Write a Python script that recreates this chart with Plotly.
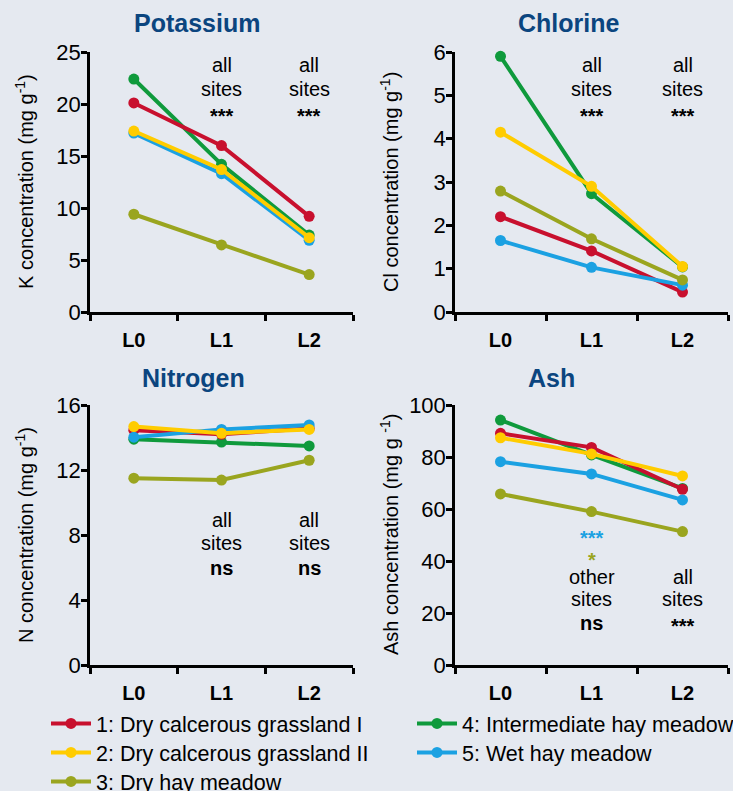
import plotly.graph_objects as go

W, H = 733, 791

periods = ["L0", "L1", "L2"]
site_names = ["1: Dry calcerous grassland I", "2: Dry calcerous grassland II",
              "3: Dry hay meadow", "4: Intermediate hay meadow", "5: Wet hay meadow"]
site_colors = ["#C8102E", "#FFCC00", "#9AA51F", "#0F9A3C", "#1BA1E2"]

# values per site (rows: sites 1..5, columns: L0, L1, L2)
potassium = [[20.1, 16.0, 9.2],
             [17.4, 13.7, 7.15],
             [9.4, 6.45, 3.6],
             [22.4, 14.2, 7.4],
             [17.2, 13.3, 6.9]]
chlorine = [[2.2, 1.41, 0.46],
            [4.15, 2.9, 1.05],
            [2.79, 1.69, 0.74],
            [5.9, 2.73, 1.04],
            [1.65, 1.03, 0.62]]
nitrogen = [[14.45, 14.2, 14.56],
            [14.67, 14.26, 14.5],
            [11.5, 11.38, 12.6],
            [13.9, 13.72, 13.48],
            [14.02, 14.5, 14.77]]
ash = [[89.1, 83.7, 67.6],
       [87.4, 81.2, 72.7],
       [65.8, 59.0, 51.3],
       [94.2, 80.8, 67.9],
       [78.2, 73.5, 63.5]]

panel_titles = ["Potassium", "Chlorine", "Nitrogen", "Ash"]
axis_titles = ["K concentration (mg g<sup>-1</sup>)", "Cl concentration (mg g<sup>-1</sup>)",
               "N concentration (mg g<sup>-1</sup>)", "Ash concentration (mg g <sup>-1</sup>)"]
y_max = [25, 6, 16, 100]
y_dtick = [5, 1, 4, 20]
panels_data = [potassium, chlorine, nitrogen, ash]

# drawing order (bottom -> top): site 4, 1, 5, 3, 2
draw_order = [3, 0, 4, 2, 1]
# one single-entry legend per site, laid out as two columns
legend_ids = ["legend", "legend2", "legend3", "legend4", "legend5"]
legend_pos = [(46, 703), (46, 732), (46, 761), (412, 703), (412, 732)]

FONT = "Liberation Sans, Arial, sans-serif"
BG = "#E5E9F0"
TITLE_COLOR = "#0B457F"

# panel pixel boxes: (left, right, top, bottom)
boxes = [(90, 353, 52, 312), (455, 728, 52, 312), (90, 353, 405, 665), (455, 728, 405, 665)]


def px(x):
    return x / W


def py(y):
    return 1 - y / H


fig = go.Figure()

for p in range(4):
    sfx = "" if p == 0 else str(p + 1)
    for s in draw_order:
        fig.add_trace(go.Scatter(
            x=periods, y=panels_data[p][s],
            xaxis="x" + sfx, yaxis="y" + sfx,
            mode="lines+markers",
            line=dict(color=site_colors[s], width=4),
            marker=dict(color=site_colors[s], size=11),
            name=site_names[s],
            legend=legend_ids[s],
            showlegend=(p == 0),
            cliponaxis=False,
            hoverinfo="skip",
        ))

layout = dict(
    width=W, height=H,
    margin=dict(l=0, r=0, t=0, b=0, autoexpand=False),
    paper_bgcolor=BG, plot_bgcolor=BG,
    font=dict(family=FONT, color="#111111", size=20),
    showlegend=True,
)

for p in range(4):
    sfx = "" if p == 0 else str(p + 1)
    l, r, t, b = boxes[p]
    layout["xaxis" + sfx] = dict(
        domain=[px(l), px(r)], anchor="y" + sfx,
        type="category", categoryorder="array", categoryarray=periods,
        range=[-0.5, 2.5],
        showline=True, linecolor="black", linewidth=2.5,
        ticks="outside", tickson="boundaries", ticklen=6, tickwidth=2.5, tickcolor="black",
        ticklabelstandoff=8,
        tickfont=dict(family=FONT, size=20, color="black", weight="bold"),
        showgrid=False, zeroline=False, fixedrange=True,
    )
    layout["yaxis" + sfx] = dict(
        domain=[py(b), py(t)], anchor="x" + sfx,
        range=[0, y_max[p]], dtick=y_dtick[p], tick0=0,
        showline=True, linecolor="black", linewidth=2.5,
        ticks="outside", ticklen=6, tickwidth=2.5, tickcolor="black",
        ticklabelstandoff=-4,
        tickfont=dict(family=FONT, size=22, color="black"),
        showgrid=False, zeroline=False, fixedrange=True,
    )

for i, lid in enumerate(legend_ids):
    layout[lid] = dict(
        x=px(legend_pos[i][0]), y=py(legend_pos[i][1]), xanchor="left", yanchor="top",
        orientation="v", bgcolor="rgba(0,0,0,0)",
        font=dict(family=FONT, size=21.5, color="black"),
        itemwidth=40,
    )

fig.update_layout(**layout)

# panel titles
title_pos = [(197, 23), (568, 23), (193, 378), (551, 378)]
for p in range(4):
    fig.add_annotation(text="<b>%s</b>" % panel_titles[p], x=px(title_pos[p][0]), y=py(title_pos[p][1]),
                       xref="paper", yref="paper", showarrow=False,
                       xanchor="center", yanchor="middle",
                       font=dict(family=FONT, size=25, color=TITLE_COLOR))

# y axis titles
for p in range(4):
    l, r, t, b = boxes[p]
    fig.add_annotation(text=axis_titles[p], textangle=-90,
                       x=px(l - 66), y=py((t + b) / 2), xref="paper", yref="paper",
                       xanchor="center", yanchor="middle",
                       showarrow=False, font=dict(family=FONT, size=20, color="black"))

# significance annotations: (panel, category, pixel y, text, color)
stat_notes = [
    (0, "L1", 65, "all", "black"), (0, "L1", 89, "sites", "black"), (0, "L1", 116, "<b>***</b>", "black"),
    (0, "L2", 65, "all", "black"), (0, "L2", 89, "sites", "black"), (0, "L2", 116, "<b>***</b>", "black"),
    (1, "L1", 65, "all", "black"), (1, "L1", 89, "sites", "black"), (1, "L1", 116, "<b>***</b>", "black"),
    (1, "L2", 65, "all", "black"), (1, "L2", 89, "sites", "black"), (1, "L2", 116, "<b>***</b>", "black"),
    (2, "L1", 520, "all", "black"), (2, "L1", 543, "sites", "black"), (2, "L1", 568, "<b>ns</b>", "black"),
    (2, "L2", 520, "all", "black"), (2, "L2", 543, "sites", "black"), (2, "L2", 568, "<b>ns</b>", "black"),
    (3, "L1", 538, "<b>***</b>", "#1BA1E2"), (3, "L1", 560, "<b>*</b>", "#9AA51F"),
    (3, "L1", 577, "other", "black"), (3, "L1", 599, "sites", "black"), (3, "L1", 623, "<b>ns</b>", "black"),
    (3, "L2", 577, "all", "black"), (3, "L2", 599, "sites", "black"), (3, "L2", 626, "<b>***</b>", "black"),
]
for p, cat, ypix, txt, col in stat_notes:
    sfx = "" if p == 0 else str(p + 1)
    fig.add_annotation(text=txt, x=cat, xref="x" + sfx, y=py(ypix), yref="paper",
                       showarrow=False, xanchor="center", yanchor="middle",
                       font=dict(family=FONT, size=20, color=col))

fig.write_html("out.html", config={"displayModeBar": False},
               post_script="document.body.style.margin='0';document.body.style.overflow='hidden';")
